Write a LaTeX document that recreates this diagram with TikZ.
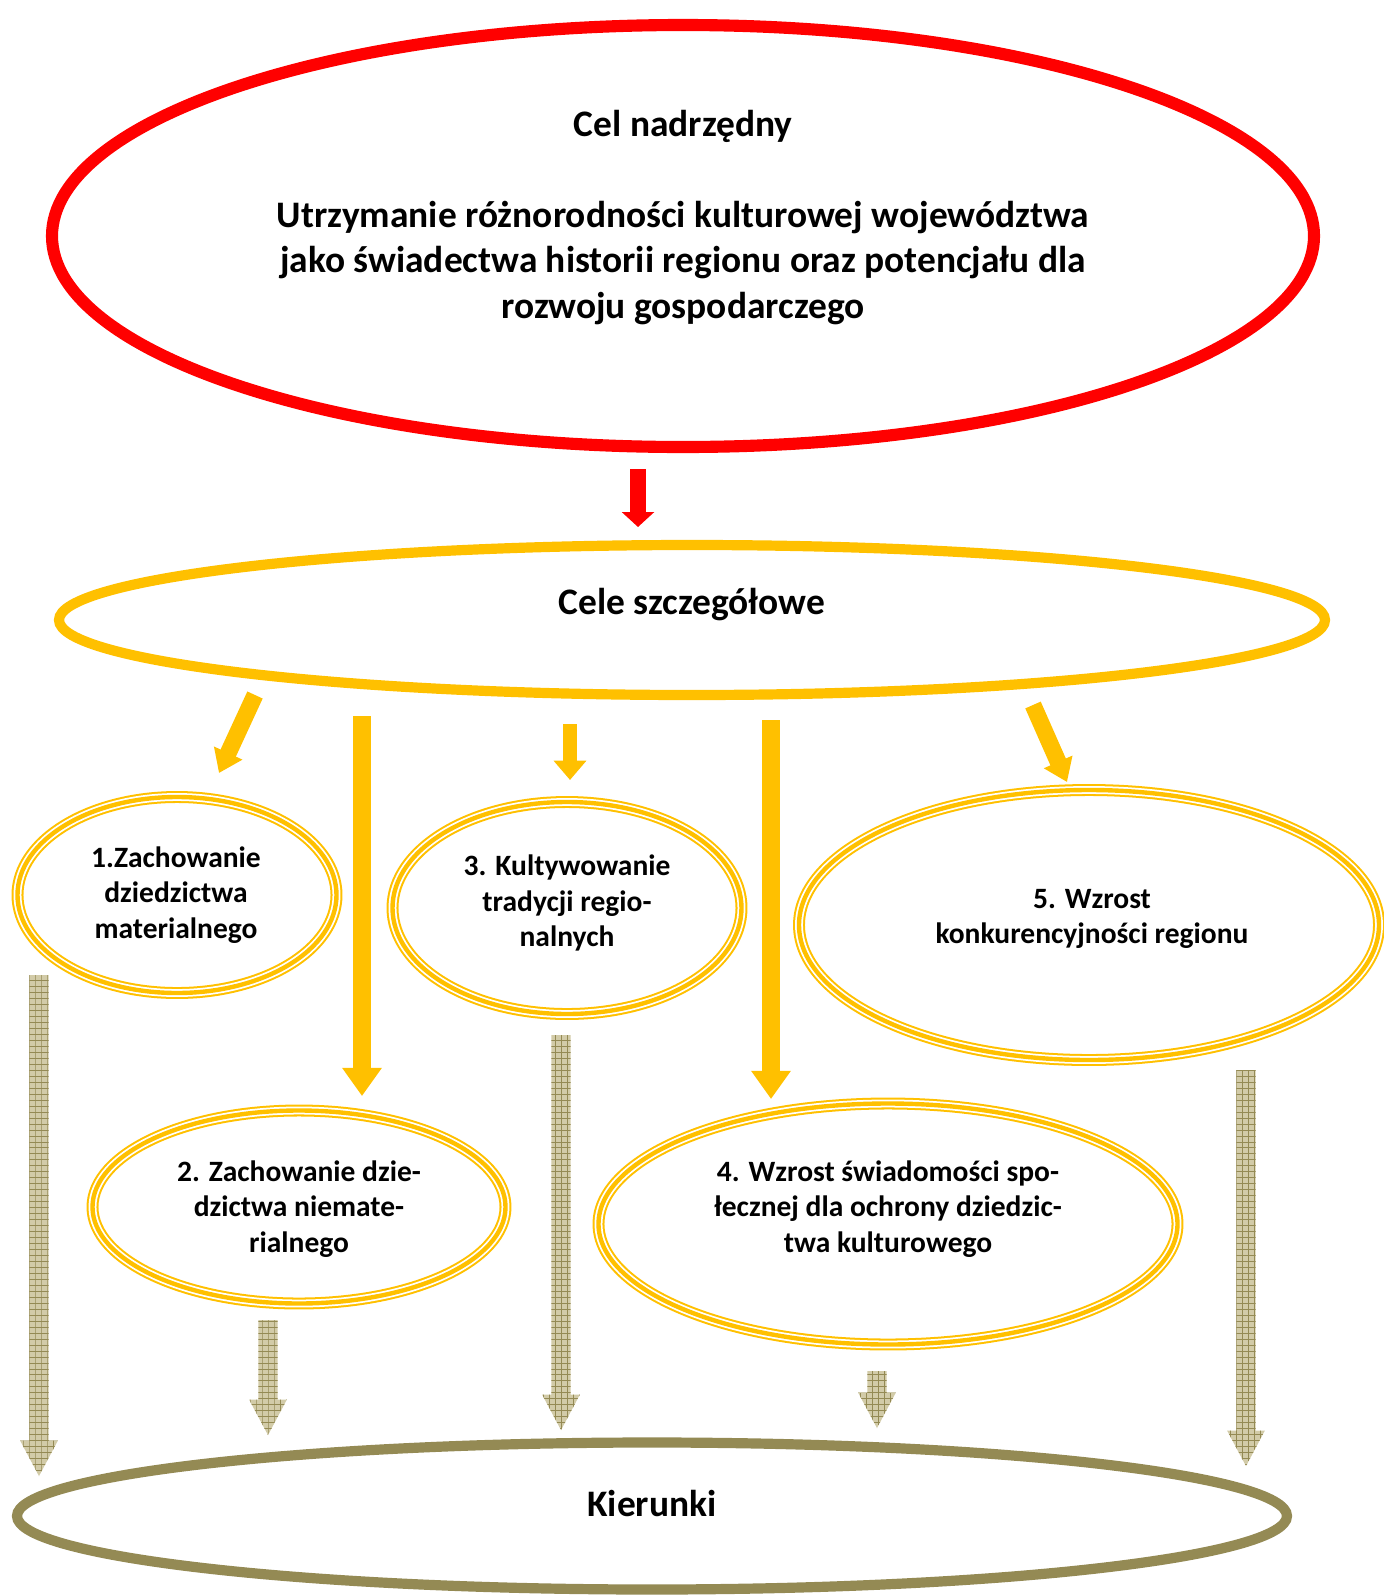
\documentclass[tikz,border=0pt]{standalone}
\usepackage{fontspec}
\setmainfont{Carlito}
\usetikzlibrary{shapes.geometric, shapes.arrows, arrows.meta, patterns}
\definecolor{celred}{RGB}{255,0,0}
\definecolor{celyellow}{RGB}{255,192,0}
\definecolor{kierolive}{RGB}{148,138,84}
\definecolor{kierlight}{RGB}{210,203,168}
\newcommand{\px}{0.02cm}
% grid for the olive arrows
\pgfdeclarepatternformonly{kiergrid}{\pgfqpoint{-0.3pt}{-0.3pt}}{\pgfqpoint{3.7pt}{3.7pt}}{\pgfqpoint{3.4pt}{3.4pt}}{%
    \pgfsetlinewidth{0.55pt}
    \pgfpathmoveto{\pgfqpoint{0pt}{0pt}}\pgfpathlineto{\pgfqpoint{3.4pt}{0pt}}
    \pgfpathmoveto{\pgfqpoint{0pt}{0pt}}\pgfpathlineto{\pgfqpoint{0pt}{3.4pt}}
    \pgfusepath{stroke}}

\tikzset{
    bigtxt/.style={font=\bfseries\fontsize{21.3}{26}\selectfont, align=center},
    smalltxt/.style={font=\bfseries\fontsize{16.8}{20.2}\selectfont, align=center},
    oval/.style={ellipse, inner sep=0pt},
    tripleoval/.style={ellipse, inner sep=0pt, draw=celyellow, line width=2.5pt,
        preaction={draw=celyellow, line width=6.8pt},
        preaction={draw=white, line width=4.5pt}},
    yarrow/.style={celyellow, line width=#1},
    kierarrow/.style={single arrow, shape border rotate=270, inner sep=5.3pt,
        single arrow head extend=5.2pt, single arrow tip angle=56,
        preaction={fill=kierlight}, pattern=kiergrid, pattern color=kierolive}
}

\begin{document}
\begin{tikzpicture}[x=\px, y=-\px]
    \useasboundingbox (0,0) rectangle (1383,1596);
        % Ellipses
        \node[oval, draw=celred, line width=6.9pt, minimum width=1262*\px, minimum height=422*\px] (nad) at (683,236) {};
        \node[oval, draw=celyellow, line width=5.8pt, minimum width=1266*\px, minimum height=150*\px] (szcz) at (692,620) {};
        \node[oval, draw=kierolive, line width=5.8pt, minimum width=1270*\px, minimum height=147*\px] (kier) at (652,1516) {};
        \node[tripleoval, minimum width=319*\px, minimum height=196*\px] (c1) at (177,895) {};
        \node[tripleoval, minimum width=413*\px, minimum height=193*\px] (c2) at (299,1207) {};
        \node[tripleoval, minimum width=349*\px, minimum height=212*\px] (c3) at (567,908) {};
        \node[tripleoval, minimum width=579*\px, minimum height=241*\px] (c4) at (888,1224) {};
        \node[tripleoval, minimum width=580*\px, minimum height=270*\px] (c5) at (1089,925) {};
        % Texts
        \node[bigtxt] (nadtitle) at (683,126) {Cel nadrzędny};
        \node[bigtxt] (nadtext) at (683,263) {Utrzymanie różnorodności kulturowej województwa\\jako świadectwa historii regionu oraz potencjału dla\\rozwoju gospodarczego};
        \node[bigtxt] (szcztext) at (692,605) {Cele szczegółowe};
        \node[bigtxt] (kiertext) at (652,1503) {Kierunki};
        \node[smalltxt] (c1text) at (176,895) {1.Zachowanie\\dziedzictwa\\materialnego};
        \node[smalltxt] (c2text) at (299,1209) {2. Zachowanie dzie-\\dzictwa niemate-\\rialnego};
        \node[smalltxt] (c3text) at (567,903) {3. Kultywowanie\\tradycji regio-\\nalnych};
        \node[smalltxt] (c4text) at (888,1209) {4. Wzrost świadomości spo-\\łecznej dla ochrony dziedzic-\\twa kulturowego};
        \node[smalltxt] (c5text) at (1092,919) {5. Wzrost\\konkurencyjności regionu};
        % Arrow ends
        \coordinate (r0) at (638,469);
        \coordinate (r1) at (638,527);
        \coordinate (a0) at (255,695);
        \coordinate (a1) at (219,773);
        \coordinate (b0) at (362,716);
        \coordinate (b1) at (362,1096);
        \coordinate (d0) at (570,724);
        \coordinate (d1) at (570,780);
        \coordinate (e0) at (771,720);
        \coordinate (e1) at (771,1099);
        \coordinate (f0) at (1033,705);
        \coordinate (f1) at (1067,782);
        % Solid arrows
        \draw[celred, line width=9pt, -{Triangle[width=18pt, length=8.5pt]}] (r0) -- (r1);
        \draw[yarrow=9.6pt, -{Triangle[width=17pt, length=12.5pt]}] (a0) -- (a1);
        \draw[yarrow=10.8pt, -{Triangle[width=21.5pt, length=16pt]}] (b0) -- (b1);
        \draw[yarrow=8pt, -{Triangle[width=18pt, length=11pt]}] (d0) -- (d1);
        \draw[yarrow=10.8pt, -{Triangle[width=21.5pt, length=16pt]}] (e0) -- (e1);
        \draw[yarrow=9.6pt, -{Triangle[width=17pt, length=12.5pt]}] (f0) -- (f1);
        % Patterned arrows
        \node[kierarrow, minimum height=501*\px] (k1) at (39,1216.5) {};
        \node[kierarrow, minimum height=115*\px] (k2) at (268,1368.5) {};
        \node[kierarrow, minimum height=395*\px] (k3) at (561,1223.5) {};
        \node[kierarrow, minimum height=57*\px] (k4) at (877,1390.5) {};
        \node[kierarrow, minimum height=396*\px] (k5) at (1246,1259) {};
    \end{tikzpicture}
\end{document}
